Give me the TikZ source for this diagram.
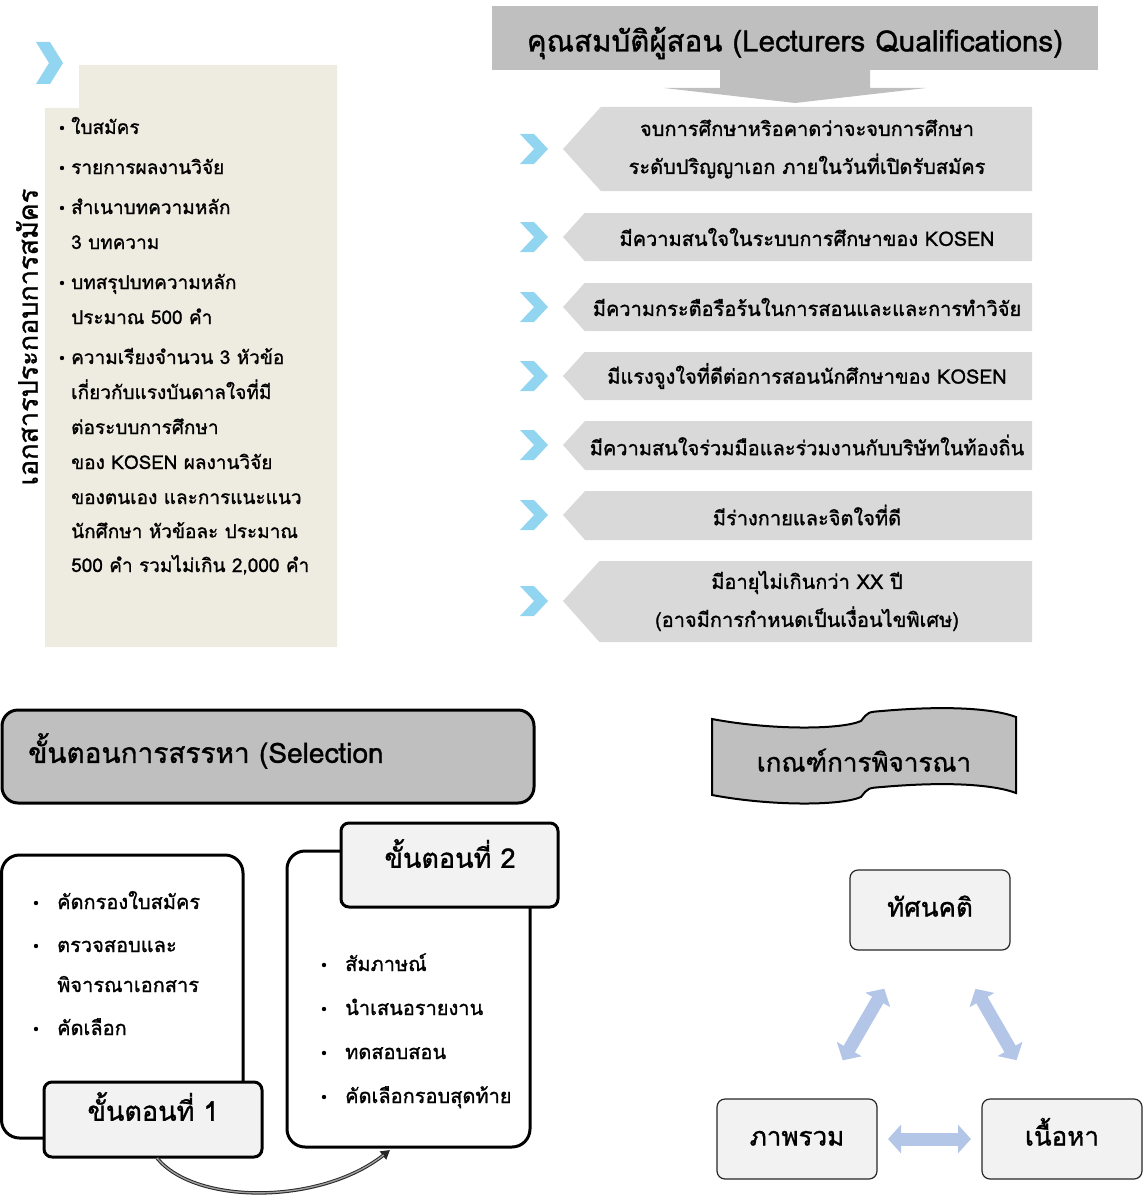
\documentclass[tikz,border=0pt]{standalone}
\usepackage{fontspec}
\setmainfont[Script=Thai,FakeBold=1.2]{Loma}
\usetikzlibrary{arrows.meta}
\definecolor{beige}{HTML}{EEECE1}
\definecolor{tgray}{HTML}{BFBFBF}
\definecolor{pgray}{HTML}{D9D9D9}
\definecolor{chevblue}{HTML}{92D5F0}
\definecolor{lgray}{HTML}{F2F2F2}
\definecolor{arrblue}{HTML}{B4C6E7}
\newcommand\fz[1]{\fontsize{#1}{#1}\selectfont}
% chevron: left x, center y, width, half height, thickness
\newcommand\chevron[5]{%
  \fill[chevblue] ({#1},{#2-#4}) -- ({#1+#5},{#2-#4}) -- ({#1+#3},{#2}) -- ({#1+#5},{#2+#4}) -- ({#1},{#2+#4}) -- ({#1+#3-#5},{#2}) -- cycle;}
% qualification box: top, bottom, middle, name, text
\newcommand\qual[5]{%
  \fill[pgray] ({563+0.9*(#2-#1)/2},{#1}) -- (1032,{#1}) -- (1032,{#2}) -- ({563+0.9*(#2-#1)/2},{#2}) -- (563,{#3}) -- cycle;
  \node[qtext] (#4) at (807,{#3}) {#5};
  \chevron{520}{#3}{28}{15}{14}}
\begin{document}
\begin{tikzpicture}[x=1pt,y=-1pt,
  every node/.style={inner sep=0pt},
  qtext/.style={font=\fontsize{20}{38}\selectfont, align=center},
  item/.style={font=\fz{19}, anchor=base west},
  sitem/.style={font=\fz{20}, anchor=base west},
  bigbox/.style={draw=black, line width=3pt, fill=white, rounded corners=18pt},
  labbox/.style={draw=black, line width=3pt, fill=lgray, rounded corners=8pt},
  labtxt/.style={font=\fz{27}, text height=19pt, text depth=5.5pt},
  tribox/.style={draw=black!85, line width=1.2pt, fill=lgray, rounded corners=8pt, minimum width=160pt, minimum height=80pt, font=\fz{26}, text height=18pt, text depth=5pt},
  barrow/.style={arrblue, line width=13pt, {Triangle[width=28pt,length=13pt]}-{Triangle[width=28pt,length=13pt]}, shorten <=91pt, shorten >=91pt},
]
\useasboundingbox (0,0) rectangle (1144,1196);

% ---------------- left panel ----------------
\fill[beige] (79,65) -- (337,65) -- (337,647) -- (45,647) -- (45,108) -- (79,108) -- cycle;
\chevron{36}{63}{27}{21}{14}
\node[rotate=90, font=\fz{27}] (vt) at (27,337) {เอกสารประกอบการสมัคร};

\foreach \yy in {128,168,208,283,358} {\fill (62,\yy) circle (2.2pt);}
\node[item] (d1) at (71,134) {ใบสมัคร};
\node[item] (d2) at (71,174) {รายการผลงานวิจัย};
\node[item] (d3a) at (71,214) {สำเนาบทความหลัก};
\node[item] (d3b) at (71,249) {3 บทความ};
\node[item] (d4a) at (71,289) {บทสรุปบทความหลัก};
\node[item] (d4b) at (71,324) {ประมาณ 500 คำ};
\node[item] (d5a) at (71,364) {ความเรียงจำนวน 3 หัวข้อ};
\node[item] (d5b) at (71,399) {เกี่ยวกับแรงบันดาลใจที่มี};
\node[item] (d5c) at (71,434) {ต่อระบบการศึกษา};
\node[item] (d5d) at (71,469) {ของ KOSEN ผลงานวิจัย};
\node[item] (d5e) at (71,504) {ของตนเอง และการแนะแนว};
\node[item] (d5f) at (71,538) {นักศึกษา หัวข้อละ ประมาณ};
\node[item] (d5g) at (71,572) {500 คำ รวมไม่เกิน 2,000 คำ};

% ---------------- qualifications ----------------
\fill[tgray] (492,6) rectangle (1098,70);
\node[font=\fz{29.5}] (title) at (795,43) {คุณสมบัติผู้สอน (Lecturers Qualifications)};
\fill[tgray] (720,70) -- (870,70) -- (870,88) -- (926,88) -- (795,103) -- (664,88) -- (720,88) -- cycle;

\qual{107}{191}{149}{q1}{จบการศึกษาหริอคาดว่าจะจบการศึกษา\\ระดับปริญญาเอก ภายในวันที่เปิดรับสมัคร}
\qual{213}{261}{237}{q2}{มีความสนใจในระบบการศึกษาของ KOSEN}
\qual{283}{331}{307}{q3}{มีความกระตือรือร้นในการสอนและและการทำวิจัย}
\qual{352}{400}{376}{q4}{มีแรงจูงใจที่ดีต่อการสอนนักศึกษาของ KOSEN}
\qual{421}{470}{445}{q5}{มีความสนใจร่วมมือและร่วมงานกับบริษัทในท้องถิ่น}
\qual{491}{540}{515}{q6}{มีร่างกายและจิตใจที่ดี}
\qual{561}{642}{601}{q7}{มีอายุไม่เกินกว่า XX ปี\\(อาจมีการกำหนดเป็นเงื่อนไขพิเศษ)}

% ---------------- selection ----------------
\draw[line width=3pt, fill=tgray, rounded corners=16pt] (2,710) rectangle (534,803);
\node[font=\fz{28}, anchor=west] (seltxt) at (28,751) {ขั้นตอนการสรรหา (Selection};

\draw[bigbox] (1.5,855) rectangle (243,1138);
\foreach \yy in {903,946,1029} {\fill (36,\yy) circle (2.2pt);}
\node[sitem] (s1a) at (57,909) {คัดกรองใบสมัคร};
\node[sitem] (s1b) at (57,952) {ตรวจสอบและ};
\node[sitem] (s1c) at (57,992) {พิจารณาเอกสาร};
\node[sitem] (s1d) at (57,1035) {คัดเลือก};
\draw[labbox] (44,1082) rectangle (262,1157);
\node[labtxt] (l1) at (153,1114) {ขั้นตอนที่ 1};

\draw[bigbox] (287,851) rectangle (530,1147);
\foreach \yy in {965,1009,1053,1097} {\fill (324,\yy) circle (2.2pt);}
\node[sitem] (s2a) at (345,971) {สัมภาษณ์};
\node[sitem] (s2b) at (345,1015) {นำเสนอรายงาน};
\node[sitem] (s2c) at (345,1059) {ทดสอบสอน};
\node[sitem] (s2d) at (345,1103) {คัดเลือกรอบสุดท้าย};
\draw[labbox] (341,823) rectangle (558,907);
\node[labtxt] (l2) at (450,861) {ขั้นตอนที่ 2};

\coordinate (a1) at (157,1158);
\coordinate (ae) at (390,1150);
\draw[line width=3.4pt, black!85, -{Triangle[length=9pt,width=10pt]}] (a1) .. controls (195,1205) and (320,1205) .. (ae);
\draw[line width=1.4pt, gray!75, shorten >=8pt] (a1) .. controls (195,1205) and (320,1205) .. (ae);

% ---------------- criteria ----------------
\draw[line width=2pt, fill=tgray]
  (712,719) .. controls (770,730) and (840,730) .. (861,721)
  .. controls (868,712) .. (882,711)
  .. controls (950,705) and (995,709) .. (1016,717)
  -- (1016,793)
  .. controls (995,785) and (950,781) .. (882,787)
  .. controls (868,788) .. (861,797)
  .. controls (840,806) and (770,806) .. (712,795) -- cycle;
\node[font=\fz{26}, text height=18pt, text depth=5pt] (crit) at (864,765) {เกณฑ์การพิจารณา};

\node[tribox] (att) at (930,910) {ทัศนคติ};
\node[tribox] (ove) at (797,1139) {ภาพรวม};
\node[tribox] (con) at (1062,1139) {เนื้อหา};
\draw[barrow] (ove.center) -- (att.center);
\draw[barrow] (att.center) -- (con.center);
\draw[barrow] (ove.center) -- (con.center);
\end{tikzpicture}
\end{document}
